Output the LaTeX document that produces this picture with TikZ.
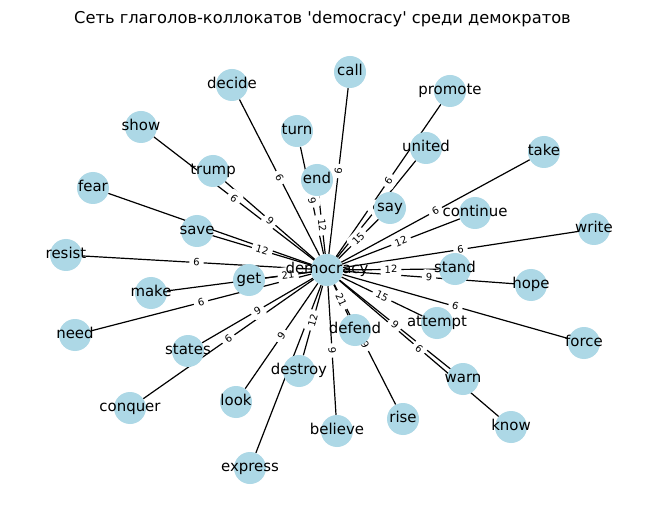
\documentclass[tikz,border=0pt]{standalone}
\usepackage{fontspec}
\setmainfont{DejaVu Sans}
\definecolor{nodeblue}{HTML}{ADD8E6}
\pgfdeclarelayer{edges}
\pgfdeclarelayer{elabels}
\pgfdeclarelayer{texts}
\pgfsetlayers{edges,elabels,main,texts}
\begin{document}
\begin{tikzpicture}[x=0.75pt,y=-0.75pt,
  vtx/.style={circle,fill=nodeblue,minimum size=24pt,inner sep=0pt},
  vtext/.style={font=\fontsize{11.2pt}{13pt}\selectfont,text height=0.76em,text depth=0.24em,inner sep=0pt},
  edgeline/.style={draw=black,line width=0.9pt},
  wlabel/.style={midway,sloped,fill=white,rounded corners=2pt,inner xsep=3pt,inner ysep=1pt,
    font=\fontsize{7.5pt}{9pt}\selectfont,text height=0.76em,text depth=0.24em},
  titletext/.style={font=\fontsize{12.2pt}{14pt}\selectfont,inner sep=0pt,anchor=base}]
\useasboundingbox (0,0) rectangle (660,520);
\begin{pgfonlayer}{edges}
  \fill[white] (0,0) rectangle (660,520);
\end{pgfonlayer}
\node[titletext] (title) at (322.5,24) {Сеть глаголов-коллокатов \textquotesingle democracy\textquotesingle{} среди демократов};
% vertices
\foreach \n/\x/\y in {democracy/327/270,decide/232/85,call/350/72,turn/297/131,end/317/180,
  promote/450/91,united/426/148,say/390/208,take/544/152,continue/475/213,write/594/229,
  stand/455/269,hope/531/285,attempt/437/323,force/584/343,warn/463/379,know/511/427,
  rise/403/419,defend/355/330,believe/337/431,destroy/299/371,express/250/468,look/236/402,
  conquer/130/408,states/188/351,need/75/335,make/151/293,get/249/280,resist/66/255,
  save/197/231,fear/93/188,trump/213/171,show/141/127}{
  \node[vtx] (n-\n) at (\x,\y) {};
  \begin{pgfonlayer}{texts}
    \node[vtext] (t-\n) at (n-\n) {\n};
  \end{pgfonlayer}
}
% edges
\begin{pgfonlayer}{edges}
\foreach \n in {decide,call,turn,end,promote,united,say,take,continue,write,stand,hope,
  attempt,force,warn,know,rise,defend,believe,destroy,express,look,conquer,states,need,
  make,get,resist,save,fear,trump,show}{
  \draw[edgeline] (n-democracy) -- (n-\n);
}
\end{pgfonlayer}
% edge weights
\begin{pgfonlayer}{elabels}
\foreach \n/\w in {decide/6,call/6,turn/9,end/12,promote/6,united/6,say/15,take/6,continue/12,
  write/6,stand/12,hope/9,attempt/15,force/6,warn/9,know/6,rise/9,defend/21,believe/9,
  destroy/12,look/9,conquer/6,states/9,need/6,get/21,resist/6,save/12,trump/9,show/6}{
  \path (n-democracy) -- (n-\n) node[wlabel] {\w};
}
\end{pgfonlayer}
\end{tikzpicture}
\end{document}
